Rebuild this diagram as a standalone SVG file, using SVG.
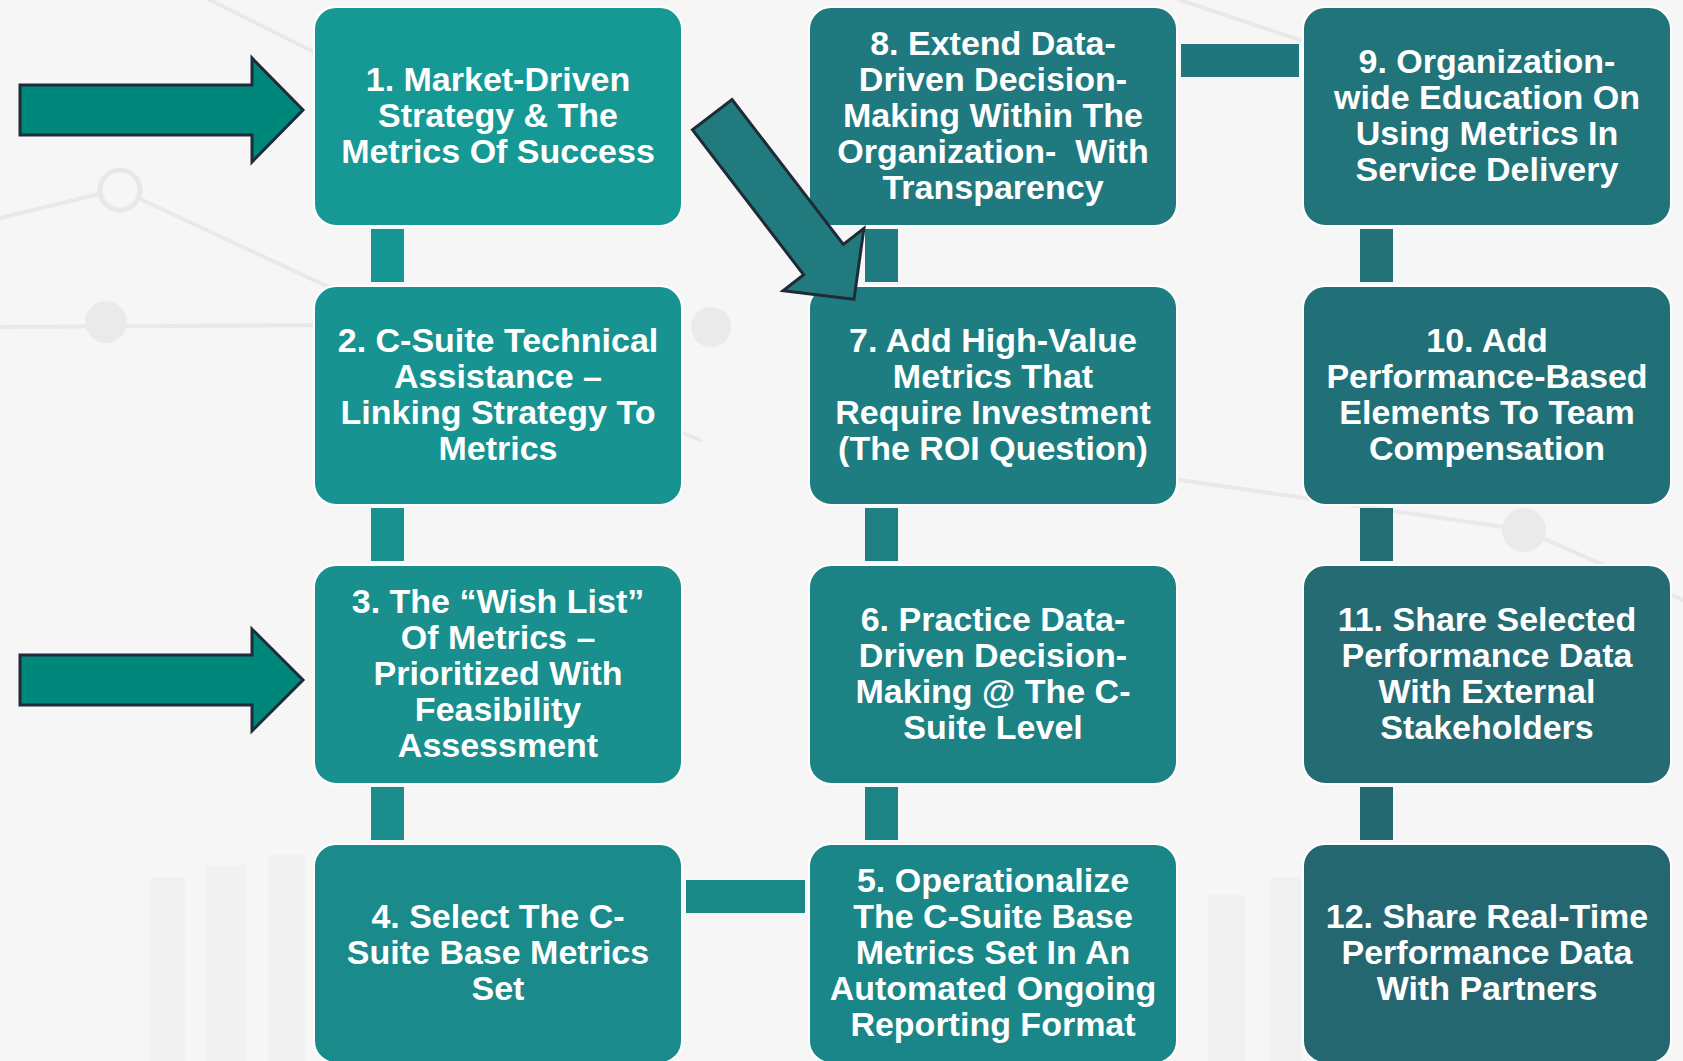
<svg xmlns="http://www.w3.org/2000/svg" width="1683" height="1061" viewBox="0 0 1683 1061">
  <style>
    .bgline { fill: none; stroke: #e9e9e9; stroke-width: 4; stroke-linecap: round; }
    .bgring { fill: none; stroke: #e8e8e8; stroke-width: 5; }
    .bgdot { fill: #eaeaea; }
    .bgbar { fill: #f1f1f1; }
    .box { stroke: #ffffff; stroke-width: 2; }
    .lbl { font-family: "Liberation Sans", Arial, sans-serif; font-weight: bold; font-size: 34px; fill: #ffffff; text-anchor: middle; }
    .arrow { stroke: #1f2b38; stroke-width: 3; stroke-linejoin: miter; }
  </style>

  <!-- backdrop with faint chart artwork -->
  <rect x="0" y="0" width="1683" height="1061" fill="#f6f6f6"/>
  <g id="backdrop">
    <polyline class="bgline" points="0,218 99,194"/>
    <polyline class="bgline" points="138,198 320,283 700,440"/>
    <circle class="bgring" cx="120" cy="190" r="20"/>
    <line class="bgline" x1="210" y1="0" x2="330" y2="60"/>
    <line class="bgline" x1="0" y1="327" x2="320" y2="325"/>
    <circle class="bgdot" cx="106" cy="322" r="21"/>
    <circle class="bgdot" cx="711" cy="327" r="20"/>
    <polyline class="bgline" points="1180,480 1524,530 1683,600"/>
    <circle class="bgdot" cx="1524" cy="530" r="22"/>
    <line class="bgline" x1="1180" y1="0" x2="1300" y2="40"/>
    <rect class="bgbar" x="150" y="877" width="35" height="184"/>
    <rect class="bgbar" x="206" y="865" width="40" height="196"/>
    <rect class="bgbar" x="268" y="855" width="37" height="206"/>
    <rect class="bgbar" x="1208" y="895" width="37" height="166"/>
    <rect class="bgbar" x="1270" y="877" width="31" height="184"/>
  </g>

  <!-- connector bars between steps -->
  <g id="connectors">
    <rect x="371" y="229" width="33" height="53" fill="#169692"/>
    <rect x="371" y="508" width="33" height="53" fill="#18918F"/>
    <rect x="371" y="787" width="33" height="53" fill="#1A8D8C"/>
    <rect x="686" y="880" width="119" height="33" fill="#1B8888"/>
    <rect x="865" y="787" width="33" height="53" fill="#1C8485"/>
    <rect x="865" y="508" width="33" height="53" fill="#1E8082"/>
    <rect x="865" y="229" width="33" height="53" fill="#1F7B7F"/>
    <rect x="1181" y="44" width="118" height="33" fill="#20767C"/>
    <rect x="1360" y="229" width="33" height="53" fill="#227278"/>
    <rect x="1360" y="508" width="33" height="53" fill="#236E75"/>
    <rect x="1360" y="787" width="33" height="53" fill="#246972"/>
  </g>

  <!-- column 1 -->
  <g id="step1">
    <rect class="box" x="314" y="7" width="368" height="219" rx="22" fill="#169994"/>
    <text class="lbl"><tspan x="498" y="90.5">1. Market-Driven</tspan><tspan x="498" y="126.5">Strategy &amp; The</tspan><tspan x="498" y="162.5">Metrics Of Success</tspan></text>
  </g>
  <g id="step2">
    <rect class="box" x="314" y="286" width="368" height="219" rx="22" fill="#179491"/>
    <text class="lbl"><tspan x="498" y="351.5">2. C-Suite Technical</tspan><tspan x="498" y="387.5">Assistance –</tspan><tspan x="498" y="423.5">Linking Strategy To</tspan><tspan x="498" y="459.5">Metrics</tspan></text>
  </g>
  <g id="step3">
    <rect class="box" x="314" y="565" width="368" height="219" rx="22" fill="#198F8E"/>
    <text class="lbl"><tspan x="498" y="612.5">3. The “Wish List”</tspan><tspan x="498" y="648.5">Of Metrics –</tspan><tspan x="498" y="684.5">Prioritized With</tspan><tspan x="498" y="720.5">Feasibility</tspan><tspan x="498" y="756.5">Assessment</tspan></text>
  </g>
  <g id="step4">
    <rect class="box" x="314" y="844" width="368" height="219" rx="22" fill="#1A8B8A"/>
    <text class="lbl"><tspan x="498" y="927.5">4. Select The C-</tspan><tspan x="498" y="963.5">Suite Base Metrics</tspan><tspan x="498" y="999.5">Set</tspan></text>
  </g>

  <!-- column 2 -->
  <g id="step5">
    <rect class="box" x="809" y="844" width="368" height="219" rx="22" fill="#1B8687"/>
    <text class="lbl"><tspan x="993" y="891.5">5. Operationalize</tspan><tspan x="993" y="927.5">The C-Suite Base</tspan><tspan x="993" y="963.5">Metrics Set In An</tspan><tspan x="993" y="999.5">Automated Ongoing</tspan><tspan x="993" y="1035.5">Reporting Format</tspan></text>
  </g>
  <g id="step6">
    <rect class="box" x="809" y="565" width="368" height="219" rx="22" fill="#1D8284"/>
    <text class="lbl"><tspan x="993" y="630.5">6. Practice Data-</tspan><tspan x="993" y="666.5">Driven Decision-</tspan><tspan x="993" y="702.5">Making @ The C-</tspan><tspan x="993" y="738.5">Suite Level</tspan></text>
  </g>
  <g id="step7">
    <rect class="box" x="809" y="286" width="368" height="219" rx="22" fill="#1E7D81"/>
    <text class="lbl"><tspan x="993" y="351.5">7. Add High-Value</tspan><tspan x="993" y="387.5">Metrics That</tspan><tspan x="993" y="423.5">Require Investment</tspan><tspan x="993" y="459.5">(The ROI Question)</tspan></text>
  </g>
  <g id="step8">
    <rect class="box" x="809" y="7" width="368" height="219" rx="22" fill="#20797E"/>
    <text class="lbl" xml:space="preserve"><tspan x="993" y="54.5">8. Extend Data-</tspan><tspan x="993" y="90.5">Driven Decision-</tspan><tspan x="993" y="126.5">Making Within The</tspan><tspan x="993" y="162.5">Organization-  With</tspan><tspan x="993" y="198.5">Transparency</tspan></text>
  </g>

  <!-- column 3 -->
  <g id="step9">
    <rect class="box" x="1303" y="7" width="368" height="219" rx="22" fill="#21747A"/>
    <text class="lbl"><tspan x="1487" y="72.5">9. Organization-</tspan><tspan x="1487" y="108.5">wide Education On</tspan><tspan x="1487" y="144.5">Using Metrics In</tspan><tspan x="1487" y="180.5">Service Delivery</tspan></text>
  </g>
  <g id="step10">
    <rect class="box" x="1303" y="286" width="368" height="219" rx="22" fill="#227077"/>
    <text class="lbl"><tspan x="1487" y="351.5">10. Add</tspan><tspan x="1487" y="387.5">Performance-Based</tspan><tspan x="1487" y="423.5">Elements To Team</tspan><tspan x="1487" y="459.5">Compensation</tspan></text>
  </g>
  <g id="step11">
    <rect class="box" x="1303" y="565" width="368" height="219" rx="22" fill="#246B74"/>
    <text class="lbl"><tspan x="1487" y="630.5">11. Share Selected</tspan><tspan x="1487" y="666.5">Performance Data</tspan><tspan x="1487" y="702.5">With External</tspan><tspan x="1487" y="738.5">Stakeholders</tspan></text>
  </g>
  <g id="step12">
    <rect class="box" x="1303" y="844" width="368" height="219" rx="22" fill="#256771"/>
    <text class="lbl"><tspan x="1487" y="927.5">12. Share Real-Time</tspan><tspan x="1487" y="963.5">Performance Data</tspan><tspan x="1487" y="999.5">With Partners</tspan></text>
  </g>

  <!-- block arrows -->
  <g id="arrows">
    <polygon class="arrow" fill="#00877B" points="20,85 252,85 252,58 303,110 252,162 252,135 20,135"/>
    <polygon class="arrow" fill="#00877B" points="20,655 252,655 252,629 303,680 252,731 252,705 20,705"/>
    <polygon class="arrow" fill="#217A7D" points="732,99.5 843.3,244.4 863.9,228.5 854,299.3 783.1,290.7 803.7,274.8 692.5,129.9"/>
  </g>
</svg>
